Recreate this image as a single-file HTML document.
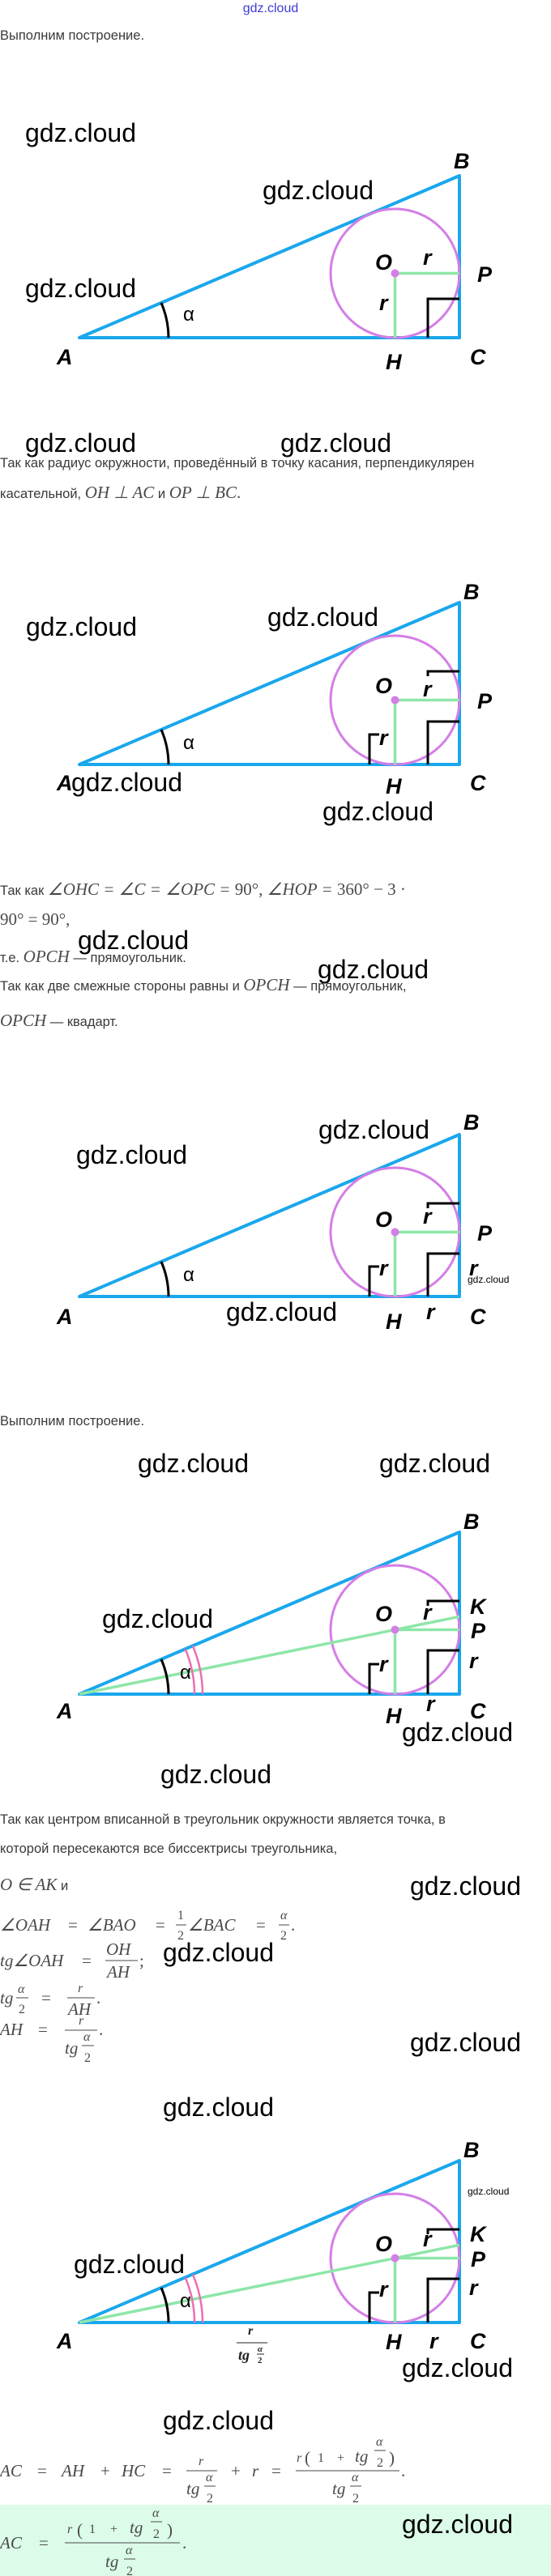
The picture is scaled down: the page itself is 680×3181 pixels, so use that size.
<!DOCTYPE html>
<html><head><meta charset="utf-8"><style>
html,body{margin:0;padding:0;background:#fff;}
svg{display:block;}
.t{font-family:"Liberation Sans",sans-serif;font-size:16.5px;fill:#3a3a3a;}
.m{font-family:"Liberation Serif",serif;font-style:italic;font-size:21px;fill:#4a4a4a;}
.mn{font-family:"Liberation Serif",serif;font-size:21px;fill:#4a4a4a;}
.ms{font-family:"Liberation Serif",serif;font-style:italic;font-size:16px;fill:#4a4a4a;}
.msn{font-family:"Liberation Serif",serif;font-size:16px;fill:#4a4a4a;}
.w{font-family:"Liberation Sans",sans-serif;font-size:32px;fill:#000;}
.ws{font-family:"Liberation Sans",sans-serif;font-size:12px;fill:#000;}
.L{font-family:"Liberation Sans Narrow","Liberation Sans",sans-serif;font-style:italic;font-weight:bold;font-size:27px;fill:#000;}
.al{font-family:"Liberation Sans",sans-serif;font-size:24px;fill:#000;}
.tri{fill:none;stroke:#1aa7ec;stroke-width:4;stroke-linejoin:round;}
.cir{fill:none;stroke:#d47ee6;stroke-width:3;}
.g{stroke:#8ee6a8;stroke-width:3.5;fill:none;}
.k{stroke:#000;stroke-width:3;fill:none;}
.p{stroke:#ec6fb3;stroke-width:2.5;fill:none;}
.fb{stroke:#4a4a4a;stroke-width:1;}
</style></head><body>
<svg width="680" height="3181" viewBox="0 0 680 3181" xmlns="http://www.w3.org/2000/svg">
<rect x="0" y="3093" width="680" height="88" fill="#dcfbe9"/>
<text x="334" y="15" text-anchor="middle" font-family="Liberation Sans,sans-serif" font-size="16" fill="#3b3bd8">gdz.cloud</text>
<text class="t" x="0" y="49">Выполним построение.</text>

<!-- Diagram 1 -->
<g transform="translate(0,217)">
<polygon class="tri" points="98,200 567,0 567,200"/>
<circle class="cir" cx="487.5" cy="120.5" r="79.5"/>
<path class="g" d="M487.5,120.5V200M487.5,120.5H567"/>
<circle cx="487.5" cy="120.5" r="5" fill="#d47ee6"/>
<path class="k" d="M528,200V152H567"/>
<path class="k" d="M199,157A110 110 0 0 1 208,200"/>
<text class="L" x="560" y="-9">B</text><text class="L" x="463" y="116">O</text>
<text class="L" x="522" y="110">r</text><text class="L" x="589" y="131">P</text>
<text class="L" x="468" y="166">r</text><text class="L" x="476" y="239">H</text>
<text class="L" x="580" y="233">C</text><text class="L" x="70" y="233">A</text>
<text class="al" x="226" y="179">α</text>
</g>
<text class="w" x="31" y="175">gdz.cloud</text><text class="w" x="324" y="246">gdz.cloud</text>
<text class="w" x="31" y="367">gdz.cloud</text><text class="w" x="31" y="558">gdz.cloud</text>
<text class="w" x="346" y="558">gdz.cloud</text>

<text class="t" x="0" y="577">Так как радиус окружности, проведённый в точку касания, перпендикулярен</text>
<text y="615"><tspan class="t">касательной, </tspan><tspan class="m">OH ⊥ AC</tspan><tspan class="t"> и </tspan><tspan class="m">OP ⊥ BC</tspan><tspan class="mn">.</tspan></text>

<!-- Diagram 2 -->
<g transform="translate(0,744)">
<polygon class="tri" points="98,200 567,0 567,200"/>
<circle class="cir" cx="487.5" cy="120.5" r="79.5"/>
<path class="g" d="M487.5,120.5V200M487.5,120.5H567"/>
<circle cx="487.5" cy="120.5" r="5" fill="#d47ee6"/>
<path class="k" d="M528,200V147H567M528,91V85H567M456,200V163H468"/>
<path class="k" d="M199,157A110 110 0 0 1 208,200"/>
<text class="L" x="572" y="-4">B</text><text class="L" x="463" y="112">O</text>
<text class="L" x="522" y="116">r</text><text class="L" x="589" y="131">P</text>
<text class="L" x="468" y="176">r</text><text class="L" x="476" y="236">H</text>
<text class="L" x="580" y="232">C</text><text class="L" x="70" y="232">A</text>
<text class="al" x="226" y="181">α</text>
</g>
<text class="w" x="32" y="785">gdz.cloud</text><text class="w" x="330" y="773">gdz.cloud</text>
<text class="w" x="88" y="977">gdz.cloud</text><text class="w" x="398" y="1013">gdz.cloud</text>

<text y="1105"><tspan class="t">Так как </tspan><tspan class="m">∠OHC  =  ∠C  =  ∠OPC  =  </tspan><tspan class="mn">90°, </tspan><tspan class="m">∠HOP  =  </tspan><tspan class="mn">360°  −  3 ·</tspan></text>
<text class="mn" x="0" y="1142">90°  =  90°,</text>
<text y="1188"><tspan class="t">т.е. </tspan><tspan class="m">OPCH</tspan><tspan class="t"> — прямоугольник.</tspan></text>
<text y="1223"><tspan class="t">Так как две смежные стороны равны и </tspan><tspan class="m">OPCH</tspan><tspan class="t"> — прямоугольник,</tspan></text>
<text y="1267"><tspan class="m">OPCH</tspan><tspan class="t"> — квадарт.</tspan></text>
<text class="w" x="96" y="1172">gdz.cloud</text><text class="w" x="392" y="1208">gdz.cloud</text>

<!-- Diagram 3 -->
<g transform="translate(0,1401)">
<polygon class="tri" points="98,200 567,0 567,200"/>
<circle class="cir" cx="487.5" cy="120.5" r="79.5"/>
<path class="g" d="M487.5,120.5V200M487.5,120.5H567"/>
<circle cx="487.5" cy="120.5" r="5" fill="#d47ee6"/>
<path class="k" d="M528,200V147H567M528,91V85H567M456,200V163H468"/>
<path class="k" d="M199,157A110 110 0 0 1 208,200"/>
<text class="L" x="572" y="-6">B</text><text class="L" x="463" y="114">O</text>
<text class="L" x="522" y="110">r</text><text class="L" x="589" y="131">P</text>
<text class="L" x="468" y="174">r</text><text class="L" x="579" y="174">r</text>
<text class="L" x="476" y="240">H</text><text class="L" x="526" y="228">r</text>
<text class="L" x="580" y="234">C</text><text class="L" x="70" y="234">A</text>
<text class="al" x="226" y="181">α</text>
<text class="ws" x="577" y="183">gdz.cloud</text>
</g>
<text class="w" x="393" y="1406">gdz.cloud</text><text class="w" x="94" y="1437">gdz.cloud</text>
<text class="w" x="279" y="1631">gdz.cloud</text>

<text class="t" x="0" y="1760">Выполним построение.</text>
<text class="w" x="170" y="1818">gdz.cloud</text><text class="w" x="468" y="1818">gdz.cloud</text>

<!-- Diagram 4 -->
<g transform="translate(0,1892)">
<polygon class="tri" points="98,200 567,0 567,200"/>
<circle class="cir" cx="487.5" cy="120.5" r="79.5"/>
<path class="g" d="M98,200L567,104.3M487.5,120.5V200M487.5,120.5H567"/>
<circle cx="487.5" cy="120.5" r="5" fill="#d47ee6"/>
<path class="k" d="M528,200V146H567M528,91V85H567M456,200V163H468"/>
<path class="k" d="M199,157A110 110 0 0 1 208,200"/>
<path class="p" d="M228.6,144.3A142 142 0 0 1 240,200M237.8,140.4A152 152 0 0 1 250,200"/>
<text class="L" x="580" y="101">K</text>
<text class="L" x="572" y="-4">B</text><text class="L" x="463" y="110">O</text>
<text class="L" x="522" y="108">r</text><text class="L" x="581" y="131">P</text>
<text class="L" x="468" y="172">r</text><text class="L" x="579" y="168">r</text>
<text class="L" x="476" y="236">H</text><text class="L" x="526" y="221">r</text>
<text class="L" x="580" y="230">C</text><text class="L" x="70" y="230">A</text>
<text class="al" x="222" y="181">α</text>
</g>
<text class="w" x="126" y="2010">gdz.cloud</text><text class="w" x="496" y="2150">gdz.cloud</text>
<text class="w" x="198" y="2202">gdz.cloud</text>

<text class="t" x="0" y="2252">Так как центром вписанной в треугольник окружности является точка, в</text>
<text class="t" x="0" y="2288">которой пересекаются все биссектрисы треугольника,</text>
<text y="2334"><tspan class="m">O ∈ AK</tspan><tspan class="t"> и</tspan></text>

<!-- ∠OAH line -->
<text class="m" x="0" y="2384">∠OAH</text><text class="mn" x="84" y="2384">=</text>
<text class="m" x="108" y="2384">∠BAO</text><text class="mn" x="192" y="2384">=</text>
<text class="msn" x="219" y="2370">1</text><line class="fb" x1="217" y1="2377" x2="230" y2="2377"/><text class="msn" x="219" y="2395">2</text>
<text class="m" x="232" y="2384">∠BAC</text><text class="mn" x="316" y="2384">=</text>
<text class="ms" x="346" y="2370">α</text><line class="fb" x1="344" y1="2377" x2="357" y2="2377"/><text class="msn" x="346" y="2395">2</text><text class="mn" x="359" y="2384">.</text>
<!-- tg OAH -->
<text class="m" x="0" y="2428">tg∠OAH</text><text class="mn" x="101" y="2428">=</text>
<text class="m" x="131" y="2414">OH</text><line class="fb" x1="130" y1="2421" x2="170" y2="2421"/><text class="m" x="132" y="2442">AH</text><text class="mn" x="172" y="2428">;</text>
<!-- tg a/2 -->
<text class="m" x="0" y="2474">tg</text>
<text class="ms" x="22" y="2461">α</text><line class="fb" x1="20" y1="2467" x2="35" y2="2467"/><text class="msn" x="23" y="2486">2</text>
<text class="mn" x="51" y="2474">=</text>
<text class="ms" x="96" y="2460">r</text><line class="fb" x1="83" y1="2467" x2="117" y2="2467"/><text class="m" x="84" y="2488">AH</text><text class="mn" x="119" y="2474">.</text>
<!-- AH = -->
<text class="m" x="0" y="2513">AH</text><text class="mn" x="47" y="2513">=</text>
<text class="ms" x="97" y="2500">r</text><line class="fb" x1="80" y1="2507" x2="120" y2="2507"/>
<text class="m" x="80" y="2536">tg</text><text class="ms" x="103" y="2520">α</text><line class="fb" x1="101" y1="2526" x2="116" y2="2526"/><text class="msn" x="104" y="2546">2</text>
<text class="mn" x="122" y="2513">.</text>
<text class="w" x="506" y="2340">gdz.cloud</text><text class="w" x="201" y="2422">gdz.cloud</text>
<text class="w" x="506" y="2533">gdz.cloud</text><text class="w" x="201" y="2613">gdz.cloud</text>

<!-- Diagram 5 -->
<g transform="translate(0,2668)">
<polygon class="tri" points="98,200 567,0 567,200"/>
<circle class="cir" cx="487.5" cy="120.5" r="79.5"/>
<path class="g" d="M98,200L567,104.3M487.5,120.5V200M487.5,120.5H567"/>
<circle cx="487.5" cy="120.5" r="5" fill="#d47ee6"/>
<path class="k" d="M528,200V146H567M528,91V85H567M456,200V163H468"/>
<path class="k" d="M199,157A110 110 0 0 1 208,200"/>
<path class="p" d="M228.6,144.3A142 142 0 0 1 240,200M237.8,140.4A152 152 0 0 1 250,200"/>
<text class="L" x="580" y="100">K</text>
<text class="L" x="572" y="-4">B</text><text class="L" x="463" y="112">O</text>
<text class="L" x="522" y="106">r</text><text class="L" x="581" y="131">P</text>
<text class="L" x="468" y="168">r</text><text class="L" x="579" y="166">r</text>
<text class="L" x="476" y="233">H</text><text class="L" x="530" y="232">r</text>
<text class="L" x="580" y="232">C</text><text class="L" x="70" y="232">A</text>
<text class="al" x="222" y="181">α</text>
<text class="ws" x="577" y="42">gdz.cloud</text>
<text x="306" y="215" font-family="Liberation Serif,serif" font-style="italic" font-weight="bold" font-size="16" fill="#222">r</text>
<line x1="292" y1="225" x2="330" y2="225" stroke="#222" stroke-width="1"/>
<text x="294" y="246" font-family="Liberation Serif,serif" font-style="italic" font-weight="bold" font-size="18" fill="#222">tg</text>
<text x="318" y="236" font-family="Liberation Serif,serif" font-style="italic" font-weight="bold" font-size="11" fill="#222">α</text>
<line x1="317" y1="239" x2="326" y2="239" stroke="#222" stroke-width="1"/>
<text x="318" y="250" font-family="Liberation Serif,serif" font-weight="bold" font-size="11" fill="#222">2</text>
</g>
<text class="w" x="91" y="2807">gdz.cloud</text><text class="w" x="496" y="2935">gdz.cloud</text>
<text class="w" x="201" y="3000">gdz.cloud</text>

<!-- AC line 1 -->
<text class="m" x="0" y="3058">AC</text><text class="mn" x="46" y="3058">=</text>
<text class="m" x="76" y="3058">AH</text><text class="mn" x="124" y="3058">+</text>
<text class="m" x="150" y="3058">HC</text><text class="mn" x="200" y="3058">=</text>
<text class="ms" x="245" y="3044">r</text><line class="fb" x1="230" y1="3051" x2="268" y2="3051"/>
<text class="m" x="230" y="3080">tg</text><text class="ms" x="254" y="3064">α</text><line class="fb" x1="252" y1="3070" x2="266" y2="3070"/><text class="msn" x="255" y="3090">2</text>
<text class="mn" x="285" y="3058">+</text><text class="m" x="311" y="3058">r</text><text class="mn" x="335" y="3058">=</text>
<text class="ms" x="366" y="3040">r</text><text class="mn" x="376" y="3042" font-size="28">(</text><text class="msn" x="392" y="3040">1</text>
<text class="msn" x="416" y="3040">+</text><text class="m" x="438" y="3040">tg</text>
<text class="ms" x="464" y="3020">α</text><line class="fb" x1="462" y1="3026" x2="476" y2="3026"/><text class="msn" x="465" y="3046">2</text>
<text class="mn" x="480" y="3042" font-size="28">)</text>
<line class="fb" x1="365" y1="3051" x2="493" y2="3051"/>
<text class="m" x="410" y="3080">tg</text><text class="ms" x="434" y="3064">α</text><line class="fb" x1="432" y1="3070" x2="446" y2="3070"/><text class="msn" x="435" y="3090">2</text>
<text class="mn" x="495" y="3058">.</text>

<!-- AC line 2 -->
<text class="m" x="0" y="3147">AC</text><text class="mn" x="48" y="3147">=</text>
<text class="ms" x="83" y="3128">r</text><text class="mn" x="95" y="3131" font-size="28">(</text><text class="msn" x="110" y="3128">1</text>
<text class="msn" x="136" y="3128">+</text><text class="m" x="160" y="3128">tg</text>
<text class="ms" x="188" y="3108">α</text><line class="fb" x1="186" y1="3114" x2="200" y2="3114"/><text class="msn" x="189" y="3134">2</text>
<text class="mn" x="206" y="3131" font-size="28">)</text>
<line class="fb" x1="80" y1="3140" x2="222" y2="3140"/>
<text class="m" x="130" y="3170">tg</text><text class="ms" x="155" y="3154">α</text><line class="fb" x1="153" y1="3160" x2="167" y2="3160"/><text class="msn" x="156" y="3180">2</text>
<text class="mn" x="225" y="3147">.</text>
<text class="w" x="496" y="3128">gdz.cloud</text>
</svg>
</body></html>
